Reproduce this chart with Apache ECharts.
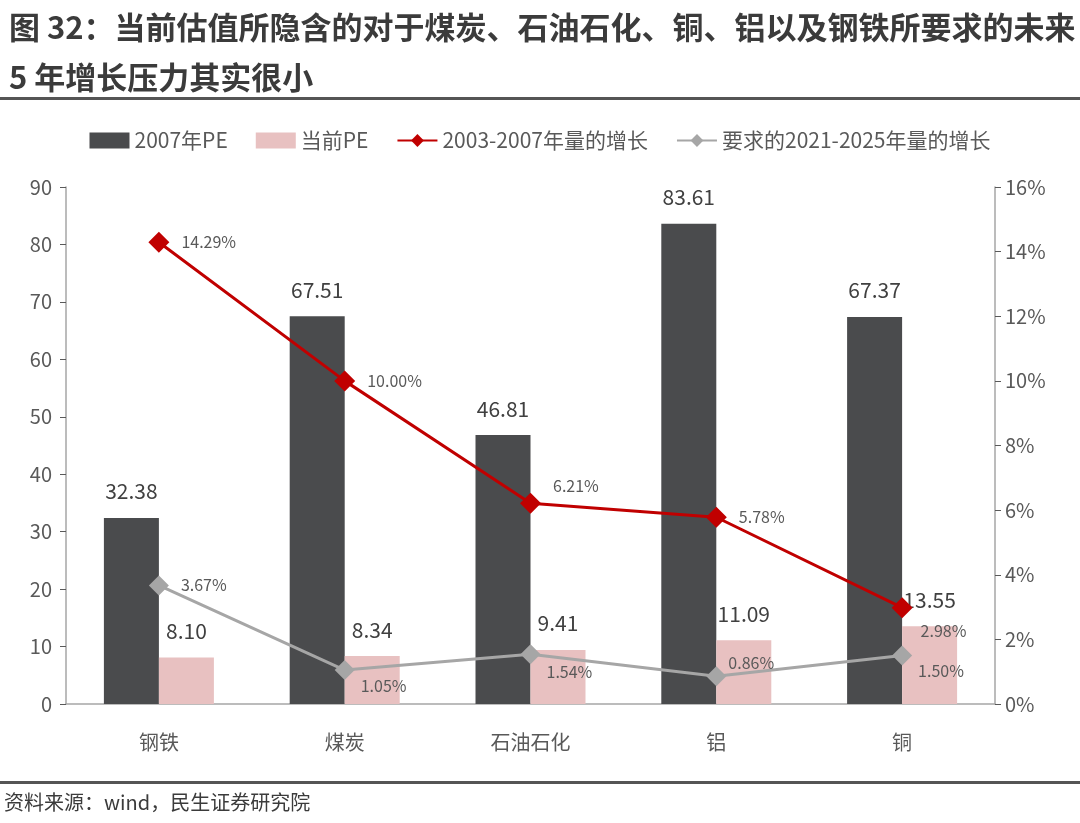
<!DOCTYPE html>
<html>
<head>
<meta charset="utf-8">
<script src="https://cdn.jsdelivr.net/npm/echarts@6/dist/echarts.min.js"></script>
<style>
html,body{margin:0;padding:0;background:#fff;}
#main{width:1080px;height:823px;}
</style>
</head>
<body>
<div id="main"></div>
<script>
var categories = ['钢铁', '煤炭', '石油石化', '铝', '铜'];
var pe2007 = [32.38, 67.51, 46.81, 83.61, 67.37];
var peNow = [8.10, 8.34, 9.41, 11.09, 13.55];
var growth0307 = [14.29, 10.00, 6.21, 5.78, 2.98];
var growth2125 = [3.67, 1.05, 1.54, 0.86, 1.50];

// label nudges for the line points (style only)
var redOffsets = [[0, 0], [0, 0], [0, -17], [0, 0], [-4, 23]];
var grayOffsets = [[0, 0], [-6, 16], [-6, 18], [-10, -13], [-6, 15]];

var font = '"Noto Sans CJK SC", "Noto Sans", sans-serif';

function lineData(vals, offs){
    var out = [];
    for(var i = 0; i < vals.length; i++){
        out.push({value: vals[i], label: {offset: offs[i]}});
    }
    return out;
}

var myChart = echarts.init(document.getElementById('main'));

var option = {
    backgroundColor: '#fff',
    textStyle: {fontFamily: font},
    title: {
        text: '图 32：当前估值所隐含的对于煤炭、石油石化、铜、铝以及钢铁所要求的未来\n5 年增长压力其实很小',
        left: 4,
        top: -3,
        textStyle: {
            fontFamily: font,
            fontSize: 31,
            fontWeight: 'bold',
            color: '#3b3b3b',
            lineHeight: 50
        }
    },
    graphic: [
        {type: 'rect', shape: {x: 0, y: 97, width: 1080, height: 3}, style: {fill: '#555'}},
        {type: 'rect', shape: {x: 0, y: 781, width: 1080, height: 3}, style: {fill: '#555'}},
        {type: 'text', left: 4, top: 792, style: {text: '资料来源：wind，民生证券研究院', font: '20px ' + font, fill: '#3b3b3b'}}
    ],
    legend: {
        top: 125,
        left: 'center',
        itemGap: 28,
        itemWidth: 40,
        itemHeight: 16,
        textStyle: {fontSize: 21, color: '#595959', fontFamily: font},
        data: [
            {name: '2007年PE', icon: 'rect'},
            {name: '当前PE', icon: 'rect'},
            {name: '2003-2007年量的增长'},
            {name: '要求的2021-2025年量的增长'}
        ]
    },
    grid: {
        left: 66,
        right: 85,
        top: 187,
        bottom: 119
    },
    xAxis: {
        type: 'category',
        data: categories,
        axisLine: {lineStyle: {color: '#a6a6a6', width: 1.5}},
        axisTick: {inside: true, length: 8, lineStyle: {color: '#595959'}},
        axisLabel: {fontSize: 20, color: '#595959', margin: 28, fontFamily: font}
    },
    yAxis: [
        {
            type: 'value',
            min: 0,
            max: 90,
            interval: 10,
            axisLine: {show: true, lineStyle: {color: '#a6a6a6', width: 1.5}},
            axisTick: {show: true, length: 6, lineStyle: {color: '#595959'}},
            splitLine: {show: false},
            axisLabel: {fontSize: 20, color: '#595959', margin: 14, fontFamily: font}
        },
        {
            type: 'value',
            min: 0,
            max: 16,
            interval: 2,
            axisLine: {show: true, lineStyle: {color: '#a6a6a6', width: 1.5}},
            axisTick: {show: true, length: 6, lineStyle: {color: '#595959'}},
            splitLine: {show: false},
            axisLabel: {fontSize: 20, color: '#595959', margin: 10, formatter: '{value}%', fontFamily: font}
        }
    ],
    series: [
        {
            name: '2007年PE',
            type: 'bar',
            data: pe2007,
            barWidth: 55,
            barGap: '0%',
            itemStyle: {color: '#4a4b4d'},
            label: {
                show: true,
                position: 'top',
                distance: 16,
                fontSize: 21,
                color: '#404040',
                formatter: function(p){ return p.value.toFixed(2); }
            }
        },
        {
            name: '当前PE',
            type: 'bar',
            data: peNow,
            barWidth: 55,
            barGap: '0%',
            itemStyle: {color: '#e8c1c1'},
            label: {
                show: true,
                position: 'top',
                distance: 16,
                fontSize: 21,
                color: '#404040',
                formatter: function(p){ return p.value.toFixed(2); }
            }
        },
        {
            name: '2003-2007年量的增长',
            type: 'line',
            yAxisIndex: 1,
            data: lineData(growth0307, redOffsets),
            symbol: 'diamond',
            symbolSize: 21,
            lineStyle: {color: '#c00000', width: 3},
            itemStyle: {color: '#c00000'},
            label: {
                show: true,
                position: 'right',
                distance: 12,
                fontSize: 16,
                color: '#595959',
                formatter: function(p){ return p.value.toFixed(2) + '%'; }
            }
        },
        {
            name: '要求的2021-2025年量的增长',
            type: 'line',
            yAxisIndex: 1,
            data: lineData(growth2125, grayOffsets),
            symbol: 'diamond',
            symbolSize: 20,
            lineStyle: {color: '#a6a6a6', width: 3},
            itemStyle: {color: '#a6a6a6'},
            label: {
                show: true,
                position: 'right',
                distance: 12,
                fontSize: 16,
                color: '#595959',
                formatter: function(p){ return p.value.toFixed(2) + '%'; }
            }
        }
    ]
};

myChart.setOption(option);
</script>
</body>
</html>
